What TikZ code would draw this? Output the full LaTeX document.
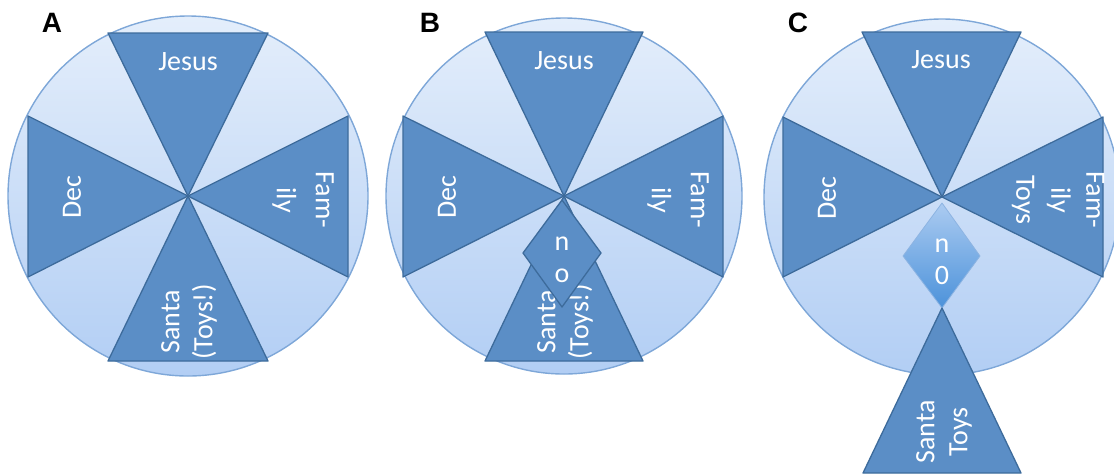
\documentclass[tikz,border=0pt]{standalone}
\usepackage{fontspec}
\setmainfont{Carlito}
\setsansfont{Liberation Sans}
\definecolor{circtop}{HTML}{E4EEFB}
\definecolor{circbot}{HTML}{B2CEF4}
\definecolor{circedge}{HTML}{7EA7D8}
\definecolor{trifill}{HTML}{5B8EC6}
\definecolor{triedge}{HTML}{3D6B9B}
\definecolor{diatop}{HTML}{ABCBF1}
\definecolor{diabot}{HTML}{4C92DA}
\definecolor{diaedge}{HTML}{8DB4E2}
\tikzset{
  wheel/.style={draw=circedge, line width=1.4pt, top color=circtop, bottom color=circbot},
  wedge/.style={draw=triedge, line width=1.3pt, fill=trifill, line join=round},
  lightdia/.style={draw=diaedge, line width=0.8pt, top color=diatop, bottom color=diabot, line join=round},
  lbl/.style={text=white, font=\fontsize{28}{33}\selectfont, align=center, inner sep=0pt},
  panel/.style={font=\sffamily\bfseries\fontsize{28}{30}\selectfont, inner sep=0pt}
}
\begin{document}
\begin{tikzpicture}[x=1pt,y=-1pt]
\useasboundingbox (0,0) rectangle (1114,475);
\clip (0,0) rectangle (1114,475);
% ---------- Panel A ----------
\node[panel] (labA) at (52,23) {A};
\draw[wheel] (188,196) circle (180);
\draw[wedge] (108,33) -- (268,33) -- (188,196) -- cycle;
\draw[wedge] (108,361) -- (268,361) -- (188,196) -- cycle;
\draw[wedge] (28,116) -- (28,277) -- (188,196) -- cycle;
\draw[wedge] (348,116) -- (348,277) -- (188,196) -- cycle;
\node[lbl] (aJ) at (188,62) {Jesus};
\node[lbl, rotate=90] (aD) at (72,197) {Dec};
\node[lbl, rotate=-90, font=\fontsize{28}{39}\selectfont] (aF) at (303,200) {Fam-\\ily};
\node[lbl, rotate=90] (aS) at (189,322) {Santa\\(Toys!)};
% ---------- Panel B ----------
\node[panel] (labB) at (430,23) {B};
\draw[wheel] (564,196) circle (178);
\draw[wedge] (485,32) -- (643,32) -- (564,196) -- cycle;
\draw[wedge] (485,361) -- (643,361) -- (564,196) -- cycle;
\draw[wedge] (403,116) -- (403,277) -- (564,196) -- cycle;
\draw[wedge] (723,116) -- (723,277) -- (564,196) -- cycle;
\node[lbl] (bJ) at (564,61) {Jesus};
\node[lbl, rotate=90] (bD) at (447,197) {Dec};
\node[lbl, rotate=-90, font=\fontsize{28}{39}\selectfont] (bF) at (678,200) {Fam-\\ily};
\node[lbl, rotate=90] (bS) at (565,322) {Santa\\(Toys!)};
\draw[wedge] (562,200) -- (601,253) -- (562,307) -- (523,253) -- cycle;
\node[lbl, font=\fontsize{28}{32}\selectfont] (bN) at (562,260) {n\\o};
% ---------- Panel C ----------
\node[panel] (labC) at (798,23) {C};
\draw[wheel] (942,197) circle (178);
\draw[wedge] (862,32) -- (1021,32) -- (942,197) -- cycle;
\draw[wedge] (783,117) -- (783,277) -- (942,197) -- cycle;
\draw[wedge] (1103,117) -- (1103,277) -- (942,197) -- cycle;
\node[lbl] (cJ) at (941,60) {Jesus};
\node[lbl, rotate=90] (cD) at (827,198) {Dec};
\node[lbl, rotate=-90, font=\fontsize{28}{35}\selectfont] (cF) at (1058,200) {Fam-\\ily\\Toys};
\draw[lightdia] (942,203) -- (980,256) -- (942,308) -- (903,256) -- cycle;
\node[lbl, font=\fontsize{28}{32}\selectfont] (cN) at (942,262) {n\\0};
\draw[wedge] (942,308) -- (1021,473) -- (863,473) -- cycle;
\node[lbl, rotate=90] (cS) at (944,432) {Santa\\Toys};
\end{tikzpicture}
\end{document}
